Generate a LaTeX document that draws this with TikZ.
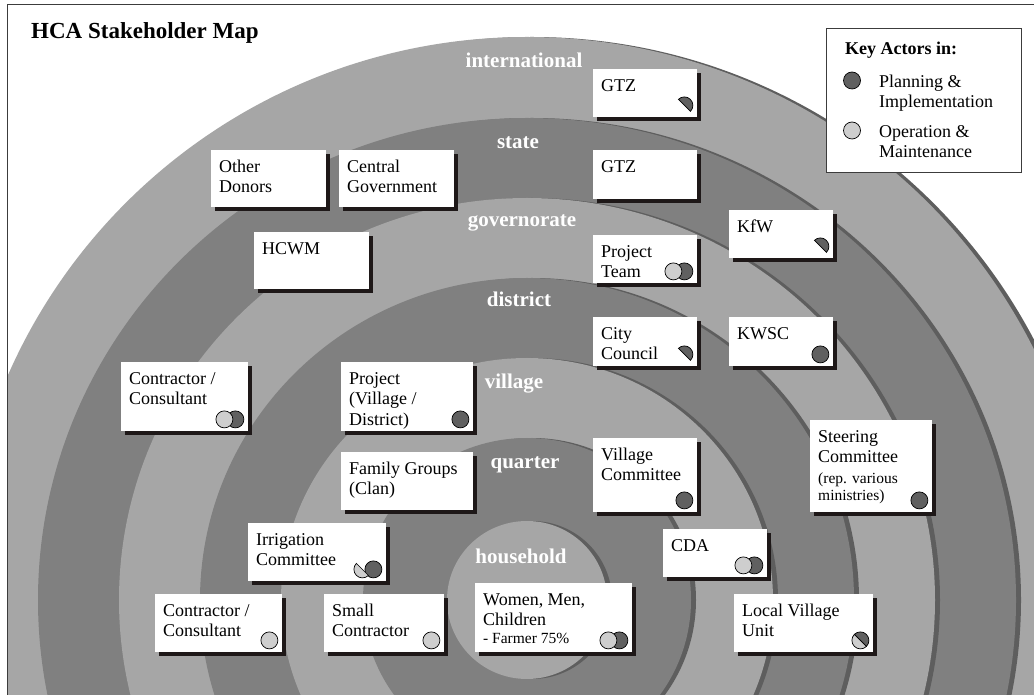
\documentclass[tikz,border=0pt]{standalone}
\usepackage{fontspec}
\setmainfont{Liberation Serif}
\usetikzlibrary{shadows}

\definecolor{bandlight}{RGB}{166,166,166}
\definecolor{banddark}{RGB}{128,128,128}
\definecolor{ringshade}{RGB}{94,94,94}
\definecolor{planfill}{RGB}{96,96,96}
\definecolor{omfill}{RGB}{206,206,206}
\definecolor{boxshade}{RGB}{30,24,24}
\definecolor{framegray}{RGB}{60,60,60}

\newcommand{\firstlinestrut}{\rule{0pt}{14pt}}
\newcommand{\smallstrut}{\rule{0pt}{12pt}}

\tikzset{
  actor/.style={fill=white, draw=none, inner sep=0pt, anchor=north west,
    drop shadow={shadow xshift=4pt, shadow yshift=-4pt, fill=boxshade, opacity=1}},
  actortext/.style={inner sep=0pt, anchor=north west, align=left,
    font=\fontsize{18}{20.5}\selectfont},
  smalltext/.style={inner sep=0pt, anchor=north west, align=left,
    font=\fontsize{15.5}{17.5}\selectfont},
  level/.style={text=white, font=\bfseries\fontsize{21}{24}\selectfont,
    inner sep=0pt, anchor=base},
  plan/.style={fill=planfill, draw=black, line width=0.7pt},
  om/.style={fill=omfill, draw=black, line width=0.7pt},
  pics/plandot/.style={code={\draw[plan] (0,0) circle[radius=8.5pt];}},
  pics/omdot/.style={code={\draw[om] (0,0) circle[radius=8.5pt];}},
  pics/bothdot/.style={code={
    \draw[plan] (5.5pt,0) circle[radius=8.5pt];
    \draw[om] (-5.5pt,0) circle[radius=8.5pt];}},
  pics/halfplan/.style={code={
    \draw[plan] (-45:8.5pt) arc[start angle=-45, end angle=135, radius=8.5pt] -- cycle;}},
  pics/splitdot/.style={code={
    \draw[om] (135:8.5pt) arc[start angle=135, end angle=315, radius=8.5pt] -- cycle;
    \draw[plan] (-45:8.5pt) arc[start angle=-45, end angle=135, radius=8.5pt] -- cycle;}},
  pics/irrigdot/.style={code={
    \draw[plan] (5.5pt,0) circle[radius=8.5pt];
    \draw[om] ([xshift=-5.5pt]135:8.5pt) arc[start angle=135, end angle=315, radius=8.5pt] -- cycle;}},
}

\begin{document}
\begin{tikzpicture}[x=1pt, y=1pt]
\useasboundingbox (0,0) rectangle (1034,694);
\fill[white] (0,0) rectangle (1034,694);

% concentric levels, outermost first, each with a shade to its right
\begin{scope}
  \clip (7,0) rectangle (1034,689);
  \foreach \a/\b/\c in {566/563/bandlight, 489/482/banddark, 408/402/bandlight,
                        327/322/banddark, 246/242/bandlight, 164/162/banddark,
                        80/79/bandlight} {
    \fill[ringshade] (532,94) ellipse[x radius=\a, y radius=\b];
    \fill[\c] (527,94) ellipse[x radius=\a, y radius=\b];
  }
\end{scope}

% frame
\draw[framegray, line width=1pt] (7,-5) -- (7,689) -- (1040,689);

% title
\node[anchor=base west, inner sep=0pt, font=\bfseries\fontsize{23}{26}\selectfont]
  (title) at (31,655) {HCA Stakeholder Map};

% level names
\node[level] (lvint)   at (524,626) {international};
\node[level] (lvstate) at (518,545) {state};
\node[level] (lvgov)   at (522,467) {governorate};
\node[level] (lvdist)  at (519,387) {district};
\node[level] (lvvill)  at (514,305) {village};
\node[level] (lvquart) at (525,225) {quarter};
\node[level] (lvhouse) at (521,130) {household};

% legend
\node[draw=framegray, fill=white, line width=0.8pt, minimum width=195pt,
  minimum height=144pt, anchor=north west, inner sep=0pt] (legend) at (826,666) {};
\node[anchor=base west, inner sep=0pt, font=\bfseries\fontsize{18}{20.5}\selectfont]
  (keyhead) at (845,639) {Key Actors in:};
\draw[plan] (852,613.5) circle[radius=8.5pt];
\node[actortext] (keyplan) at (879,621) {\firstlinestrut Planning \&\\Implementation};
\draw[om] (852,563.5) circle[radius=8.5pt];
\node[actortext] (keyom) at (879,571) {\firstlinestrut Operation \&\\Maintenance};

% actors
\node[actor, minimum width=104pt, minimum height=48pt] (gtzint) at (593,625) {};
\node[actortext] (gtzint-t) at ([shift={(8,-8)}]gtzint.north west) {\firstlinestrut GTZ};
\pic at ([shift={(-13,12)}]gtzint.south east) {halfplan};

\node[actor, minimum width=104pt, minimum height=49pt] (gtzstate) at (593,544) {};
\node[actortext] (gtzstate-t) at ([shift={(8,-8)}]gtzstate.north west) {\firstlinestrut GTZ};

\node[actor, minimum width=115pt, minimum height=57pt] (donors) at (211,544) {};
\node[actortext] (donors-t) at ([shift={(8,-8)}]donors.north west) {\firstlinestrut Other\\Donors};

\node[actor, minimum width=115pt, minimum height=57pt] (centralgov) at (339,544) {};
\node[actortext] (centralgov-t) at ([shift={(8,-8)}]centralgov.north west) {\firstlinestrut Central\\Government};

\node[actor, minimum width=115pt, minimum height=57pt] (hcwm) at (254,462) {};
\node[actortext] (hcwm-t) at ([shift={(8,-8)}]hcwm.north west) {\firstlinestrut HCWM};

\node[actor, minimum width=104pt, minimum height=48pt] (kfw) at (729,484) {};
\node[actortext] (kfw-t) at ([shift={(8,-8)}]kfw.north west) {\firstlinestrut KfW};
\pic at ([shift={(-13,12)}]kfw.south east) {halfplan};

\node[actor, minimum width=104pt, minimum height=48pt] (projteam) at (593,459) {};
\node[actortext] (projteam-t) at ([shift={(8,-8)}]projteam.north west) {\firstlinestrut Project\\Team};
\pic at ([shift={(-18.5,12)}]projteam.south east) {bothdot};

\node[actor, minimum width=104pt, minimum height=49pt] (council) at (593,377) {};
\node[actortext] (council-t) at ([shift={(8,-8)}]council.north west) {\firstlinestrut City\\Council};
\pic at ([shift={(-13,12)}]council.south east) {halfplan};

\node[actor, minimum width=104pt, minimum height=49pt] (kwsc) at (729,377) {};
\node[actortext] (kwsc-t) at ([shift={(8,-8)}]kwsc.north west) {\firstlinestrut KWSC};
\pic at ([shift={(-13,12)}]kwsc.south east) {plandot};

\node[actor, minimum width=127pt, minimum height=69pt] (consulta) at (121,332) {};
\node[actortext] (consulta-t) at ([shift={(8,-8)}]consulta.north west) {\firstlinestrut Contractor /\\Consultant};
\pic at ([shift={(-18.5,12)}]consulta.south east) {bothdot};

\node[actor, minimum width=132pt, minimum height=69pt] (projvd) at (341,332) {};
\node[actortext] (projvd-t) at ([shift={(8,-8)}]projvd.north west) {\firstlinestrut Project\\(Village /\\District)};
\pic at ([shift={(-13,12)}]projvd.south east) {plandot};

\node[actor, minimum width=132pt, minimum height=58pt] (family) at (341,242) {};
\node[actortext] (family-t) at ([shift={(8,-8)}]family.north west) {\firstlinestrut Family Groups\\(Clan)};

\node[actor, minimum width=104pt, minimum height=74pt] (villcom) at (593,256) {};
\node[actortext] (villcom-t) at ([shift={(8,-8)}]villcom.north west) {\firstlinestrut Village\\Committee};
\pic at ([shift={(-13,12)}]villcom.south east) {plandot};

\node[actor, minimum width=122pt, minimum height=92pt] (steering) at (810,274) {};
\node[actortext] (steering-t) at ([shift={(8,-8)}]steering.north west) {\firstlinestrut Steering\\Committee};
\node[smalltext] (steering-s) at (818,223) {\smallstrut(rep. various\\ministries)};
\pic at ([shift={(-13,12)}]steering.south east) {plandot};

\node[actor, minimum width=138pt, minimum height=58pt] (irrig) at (248,171) {};
\node[actortext] (irrig-t) at ([shift={(8,-8)}]irrig.north west) {\firstlinestrut Irrigation\\Committee};
\pic at ([shift={(-18.5,12)}]irrig.south east) {irrigdot};

\node[actor, minimum width=104pt, minimum height=48pt] (cda) at (663,165) {};
\node[actortext] (cda-t) at ([shift={(8,-8)}]cda.north west) {\firstlinestrut CDA};
\pic at ([shift={(-18.5,12)}]cda.south east) {bothdot};

\node[actor, minimum width=127pt, minimum height=58pt] (consultb) at (155,100) {};
\node[actortext] (consultb-t) at ([shift={(8,-8)}]consultb.north west) {\firstlinestrut Contractor /\\Consultant};
\pic at ([shift={(-13,12)}]consultb.south east) {omdot};

\node[actor, minimum width=120pt, minimum height=58pt] (smallcon) at (324,100) {};
\node[actortext] (smallcon-t) at ([shift={(8,-8)}]smallcon.north west) {\firstlinestrut Small\\Contractor};
\pic at ([shift={(-13,12)}]smallcon.south east) {omdot};

\node[actor, minimum width=157pt, minimum height=69pt] (people) at (475,111) {};
\node[actortext] (people-t) at ([shift={(8,-8)}]people.north west) {\firstlinestrut Women, Men,\\Children};
\node[smalltext] (people-s) at (483,63) {\smallstrut- Farmer 75\%};
\pic at ([shift={(-18.5,12)}]people.south east) {bothdot};

\node[actor, minimum width=139pt, minimum height=58pt] (lvu) at (734,100) {};
\node[actortext] (lvu-t) at ([shift={(8,-8)}]lvu.north west) {\firstlinestrut Local Village\\Unit};
\pic at ([shift={(-13,12)}]lvu.south east) {splitdot};
\end{tikzpicture}
\end{document}
